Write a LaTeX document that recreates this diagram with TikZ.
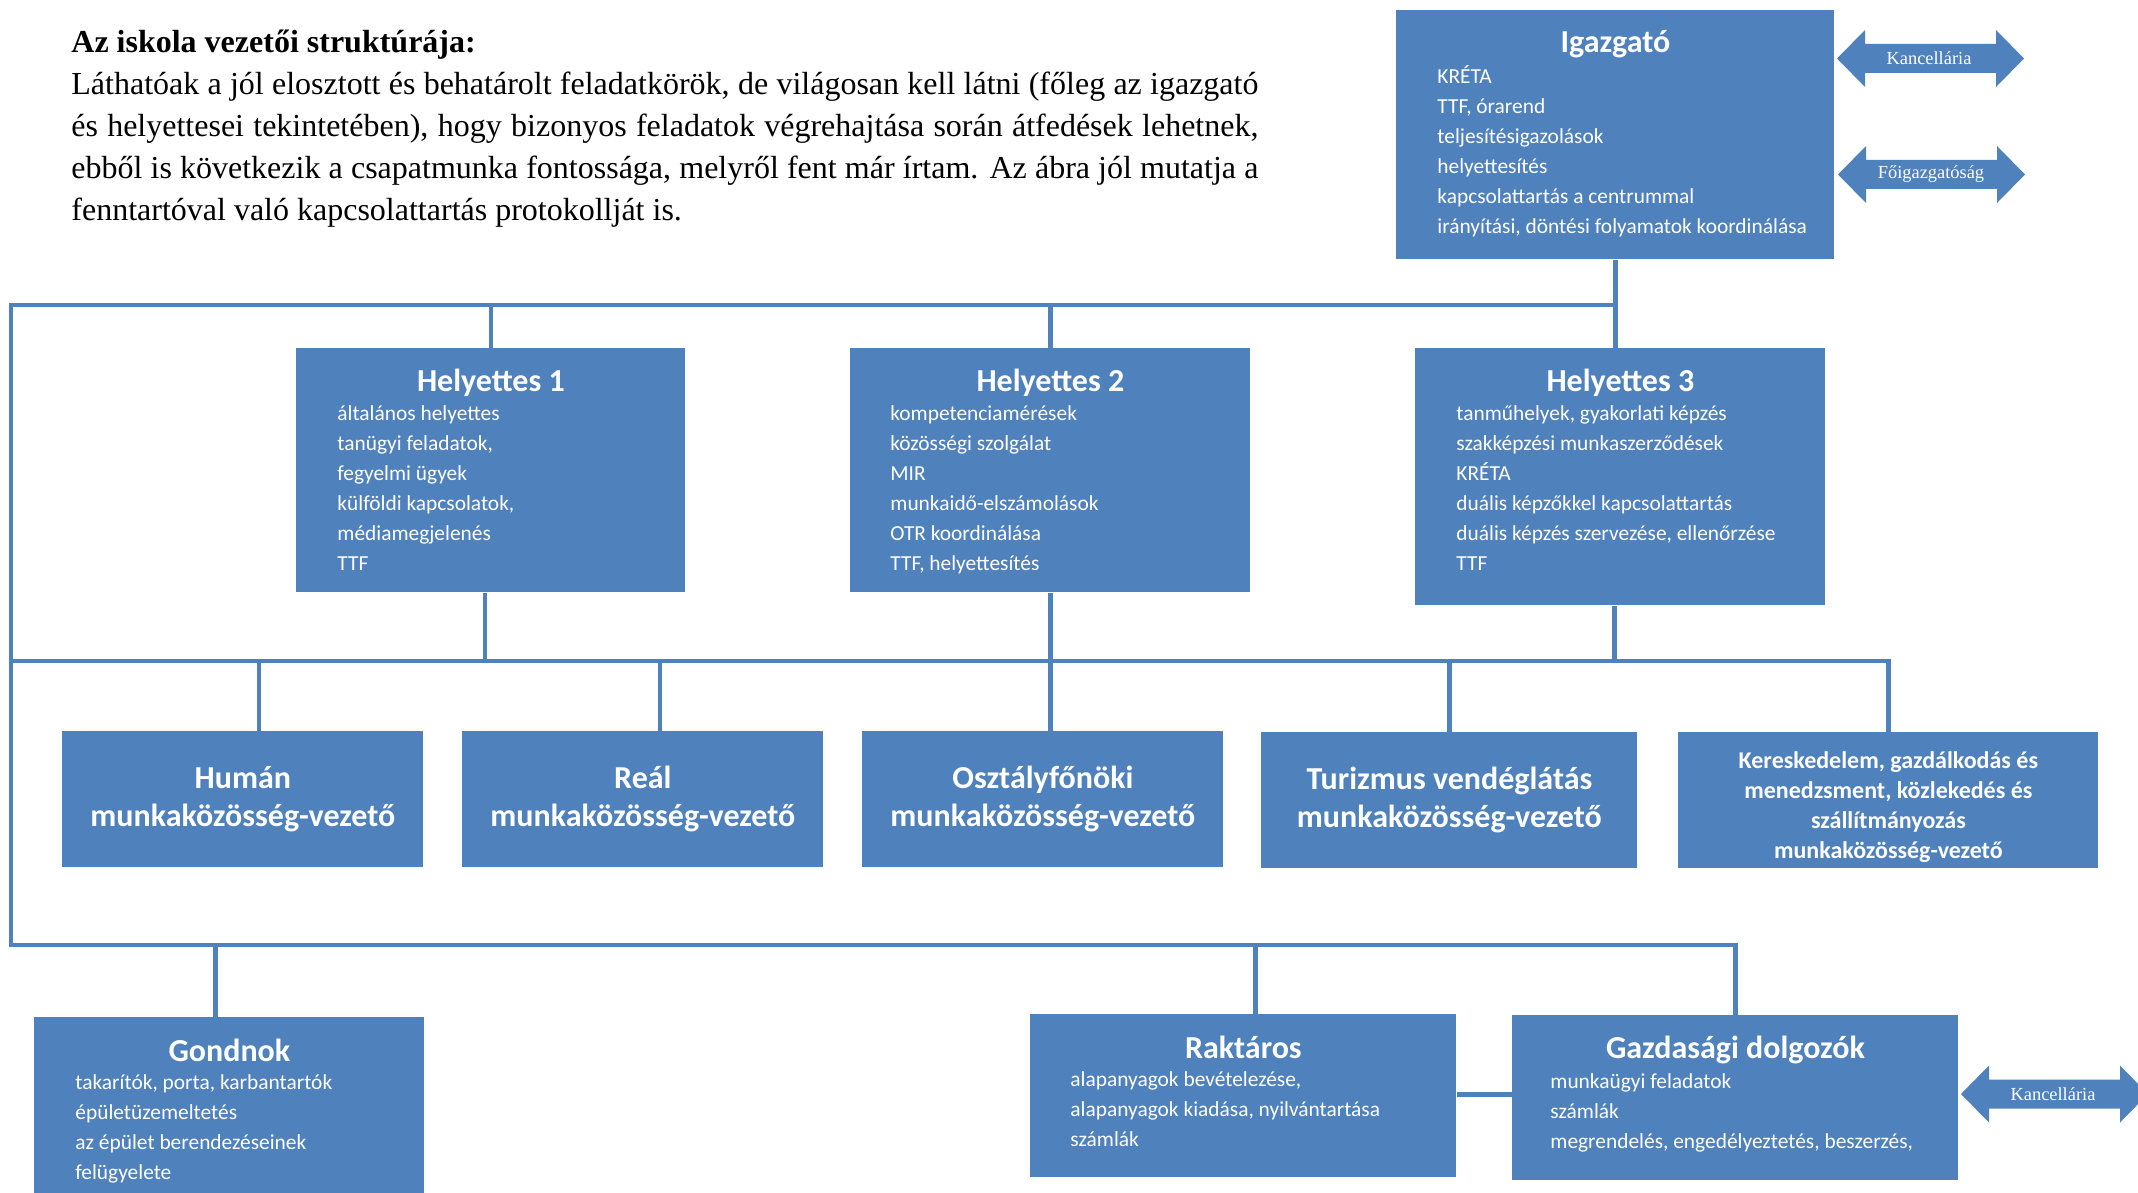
\documentclass[tikz,border=0pt]{standalone}
\usepackage{fontspec}
\setmainfont{Liberation Serif}
\newfontfamily\boxfont{Carlito}
\usetikzlibrary{calc,positioning}

\definecolor{boxblue}{RGB}{79,129,189}
\newlength\px
\setlength\px{0.5pt}

\tikzset{
  box/.style={fill=boxblue, anchor=north west, inner sep=0pt, text=white},
  wg/.style={box, align=center, font=\boxfont\bfseries\fontsize{16}{19}\selectfont},
  head/.style={text=white, anchor=base, inner sep=0pt, font=\boxfont\bfseries\fontsize{16}{19}\selectfont},
  items/.style={text=white, anchor=north west, inner sep=0pt, align=left,
    font=\boxfont\fontsize{10.7}{15}\selectfont, execute at begin node=\strut},
  link/.style={draw=boxblue, line width=2.25pt},
  tag/.style={text=white, inner sep=0pt, font=\fontsize{9.2}{11}\selectfont},
  twoway/.pic={
    \fill[boxblue] (-93.5,0) -- ++(28,-28.5) -- ++(0,14) -- ++(131,0) -- ++(0,-14)
      -- ++(28,28.5) -- ++(-28,28.5) -- ++(0,-14) -- ++(-131,0) -- ++(0,14) -- cycle;
  }
}

\begin{document}
\begin{tikzpicture}[x=\px, y=-\px]
  \useasboundingbox (0,0) rectangle (2138,1193);
  \clip (0,0) rectangle (2138,1193);

  % Text above the chart
  \node[anchor=north west, inner sep=0pt, align=left, font=\fontsize{16}{21}\selectfont] (para) at (71,22.6)
    {\strut\textbf{Az iskola vezetői struktúrája:}\\
     \makebox[1187\px][s]{Láthatóak a jól elosztott és behatárolt feladatkörök, de világosan kell látni (főleg az igazgató}\\
     \makebox[1187\px][s]{és helyettesei tekintetében), hogy bizonyos feladatok végrehajtása során átfedések lehetnek,}\\
     \makebox[1187\px][s]{ebből is következik a csapatmunka fontossága, melyről fent már írtam. Az ábra jól mutatja a}\\
     fenntartóval való kapcsolattartás protokollját is.};

  % Igazgato
  \node[box, minimum width=438\px, minimum height=249\px] (igaz) at (1396,10) {};
  \node[head] (igazt) at ($(igaz.north)+(0,43)$) {Igazgató};
  \node[items] (igazi) at ($(igaz.north west)+(41,55)$)
    {KRÉTA\\TTF, órarend\\teljesítésigazolások\\helyettesítés\\kapcsolattartás a centrummal\\irányítási, döntési folyamatok koordinálása};

  % Kapcsolat a fenntartoval
  \pic at (1930.5,58.5) {twoway};
  \node[tag] (kanc1) at (1929,58) {Kancellária};
  \pic at (1931.5,174.5) {twoway};
  \node[tag] (foig) at (1931,174) {Főigazgatóság};

  % Helyettesek
  \node[box, minimum width=389\px, minimum height=244\px] (h1) at (296,348) {};
  \node[head] (h1t) at ($(h1.north)+(0,43)$) {Helyettes 1};
  \node[items] (h1i) at ($(h1.north west)+(41,57)$)
    {általános helyettes\\tanügyi feladatok,\\fegyelmi ügyek\\külföldi kapcsolatok,\\médiamegjelenés\\TTF};

  \node[box, minimum width=400\px, minimum height=244\px] (h2) at (850,348) {};
  \node[head] (h2t) at ($(h2.north)+(0,43)$) {Helyettes 2};
  \node[items] (h2i) at ($(h2.north west)+(40,57)$)
    {kompetenciamérések\\közösségi szolgálat\\MIR\\munkaidő-elszámolások\\OTR koordinálása\\TTF, helyettesítés};

  \node[box, minimum width=410\px, minimum height=257\px] (h3) at (1415,348) {};
  \node[head] (h3t) at ($(h3.north)+(0,43)$) {Helyettes 3};
  \node[items] (h3i) at ($(h3.north west)+(41,57)$)
    {tanműhelyek, gyakorlati képzés\\szakképzési munkaszerződések\\KRÉTA\\duális képzőkkel kapcsolattartás\\duális képzés szervezése, ellenőrzése\\TTF};

  % Munkakozossegek
  \node[wg, minimum width=361\px, minimum height=136\px] (human) at (62,731) {Humán\\munkaközösség-vezető};
  \node[wg, minimum width=361\px, minimum height=136\px] (real) at (462,731) {Reál\\munkaközösség-vezető};
  \node[wg, minimum width=361\px, minimum height=136\px] (osztf) at (862,731) {Osztályfőnöki\\munkaközösség-vezető};
  \node[wg, minimum width=376\px, minimum height=136\px] (turiz) at (1261,732) {Turizmus vendéglátás\\munkaközösség-vezető};
  \node[box, minimum width=420\px, minimum height=136\px] (keres) at (1678,732) {};
  \node[text=white, align=center, inner sep=0pt, font=\boxfont\bfseries\fontsize{12}{15}\selectfont] (kerest)
    at ($(keres.center)+(0,7)$)
    {Kereskedelem, gazdálkodás és\\menedzsment, közlekedés és\\szállítmányozás\\munkaközösség-vezető};

  % Alkalmazottak
  \node[box, minimum width=390\px, minimum height=200\px] (gond) at (34,1017) {};
  \node[head] (gondt) at ($(gond.north)+(0,44)$) {Gondnok};
  \node[items] (gondi) at ($(gond.north west)+(41,57)$)
    {takarítók, porta, karbantartók\\épületüzemeltetés\\az épület berendezéseinek\\felügyelete};

  \node[box, minimum width=426\px, minimum height=163\px] (rakt) at (1030,1014) {};
  \node[head] (raktt) at ($(rakt.north)+(0,44)$) {Raktáros};
  \node[items] (rakti) at ($(rakt.north west)+(40,57)$)
    {alapanyagok bevételezése,\\alapanyagok kiadása, nyilvántartása\\számlák};

  \node[box, minimum width=446\px, minimum height=165\px] (gazd) at (1512,1015) {};
  \node[head] (gazdt) at ($(gazd.north)+(0,43)$) {Gazdasági dolgozók};
  \node[items] (gazdi) at ($(gazd.north west)+(38,58)$)
    {munkaügyi feladatok\\számlák\\megrendelés, engedélyeztetés, beszerzés,};

  \pic at (2054.5,1094) {twoway};
  \node[tag] (kanc2) at (2053,1094) {Kancellária};

  % Vonalak
  \coordinate (lt) at (11,305);
  \coordinate (lm) at (11,661);
  \coordinate (lb) at (11,945);

  \draw[link] (igaz.south) |- (lt) -- (lb) -| (gazd.north);
  \draw[link] (lm) -| (keres.north);
  \draw[link] (igaz.south) -- (igaz.south |- h3.north);
  \draw[link] (h1.north) -- (h1.north |- lt);
  \draw[link] (h2.north) -- (h2.north |- lt);
  \draw[link] (h1.south) ++(-6,0) coordinate (h1d) -- (h1d |- lm);
  \draw[link] (h2.south) -- (h2.south |- osztf.north);
  \draw[link] (h3.south) ++(-6,0) coordinate (h3d) -- (h3d |- lm);
  \draw[link] (human.north) ++(16,0) coordinate (hud) -- (hud |- lm);
  \draw[link] (real.north) ++(17,0) coordinate (red) -- (red |- lm);
  \draw[link] (turiz.north) -- (turiz.north |- lm);
  \draw[link] (gond.north) ++(-14,0) coordinate (god) -- (god |- lb);
  \draw[link] (rakt.north) ++(12,0) coordinate (rad) -- (rad |- lb);
  \draw[link] (rakt.east) ++(0,-1.5) coordinate (rke) -- (rke -| gazd.west);
\end{tikzpicture}
\end{document}
